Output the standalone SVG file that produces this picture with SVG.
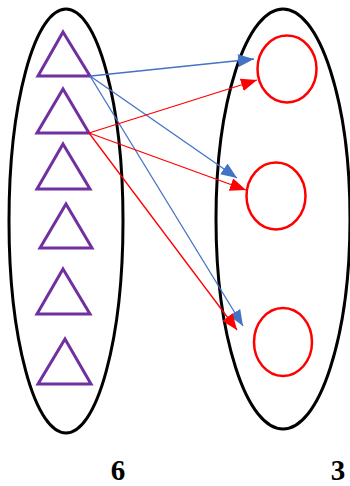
<svg xmlns="http://www.w3.org/2000/svg" width="350" height="486" viewBox="0 0 350 486">
<style>
.set{fill:none;stroke:#000;stroke-width:3}
.tri{fill:none;stroke:#7030A0;stroke-width:3;stroke-linejoin:miter}
.circ{fill:none;stroke:#FF0000;stroke-width:2.5}
.blue{stroke:#4472C4;stroke-width:1.3;fill:none}
.red{stroke:#FF0000;stroke-width:1.3;fill:none}
.lbl{font-family:"Liberation Serif",serif;font-weight:bold;font-size:29px;fill:#000;text-anchor:middle}
</style>
<defs>
<marker id="ab" markerUnits="userSpaceOnUse" markerWidth="17" markerHeight="14" refX="16" refY="6.5" orient="auto"><path d="M0,0 L16,6.5 L0,13 Z" fill="#4472C4"/></marker>
<marker id="ar" markerUnits="userSpaceOnUse" markerWidth="17" markerHeight="14" refX="16" refY="6.5" orient="auto"><path d="M0,0 L16,6.5 L0,13 Z" fill="#FF0000"/></marker>
</defs>
<g id="setA"><ellipse class="set" cx="66" cy="221" rx="57" ry="212"/></g>
<g id="setB"><ellipse class="set" cx="283" cy="219" rx="67" ry="210"/></g>
<g id="t1"><polygon class="tri" points="63,32 90,76 38,76"/></g>
<g id="t2"><polygon class="tri" points="63,89 89,133 37,133"/></g>
<g id="t3"><polygon class="tri" points="63,144 90,189 37,189"/></g>
<g id="t4"><polygon class="tri" points="66,204 92,248 40,248"/></g>
<g id="t5"><polygon class="tri" points="63,269 90,314 37,314"/></g>
<g id="t6"><polygon class="tri" points="65,339 91,384 38,384"/></g>
<g id="c1"><ellipse class="circ" cx="287" cy="69" rx="29.5" ry="33.5"/></g>
<g id="c2"><ellipse class="circ" cx="276" cy="196" rx="29.5" ry="33.5"/></g>
<g id="c3"><ellipse class="circ" cx="283" cy="342" rx="29" ry="34"/></g>
<g id="connectors">
<line class="blue" x1="91" y1="76" x2="254" y2="59" marker-end="url(#ab)"/>
<line class="blue" x1="90" y1="76" x2="237" y2="178" marker-end="url(#ab)"/>
<line class="blue" x1="90" y1="76" x2="243" y2="326" marker-end="url(#ab)"/>
<line class="red" x1="89" y1="133" x2="257" y2="80" marker-end="url(#ar)"/>
<line class="red" x1="89" y1="133" x2="246" y2="190" marker-end="url(#ar)"/>
<line class="red" x1="89" y1="133" x2="237" y2="330" marker-end="url(#ar)"/>
</g>
<g id="labels">
<text class="lbl" x="118" y="480">6</text>
<text class="lbl" x="338" y="480">3</text>
</g>
</svg>
